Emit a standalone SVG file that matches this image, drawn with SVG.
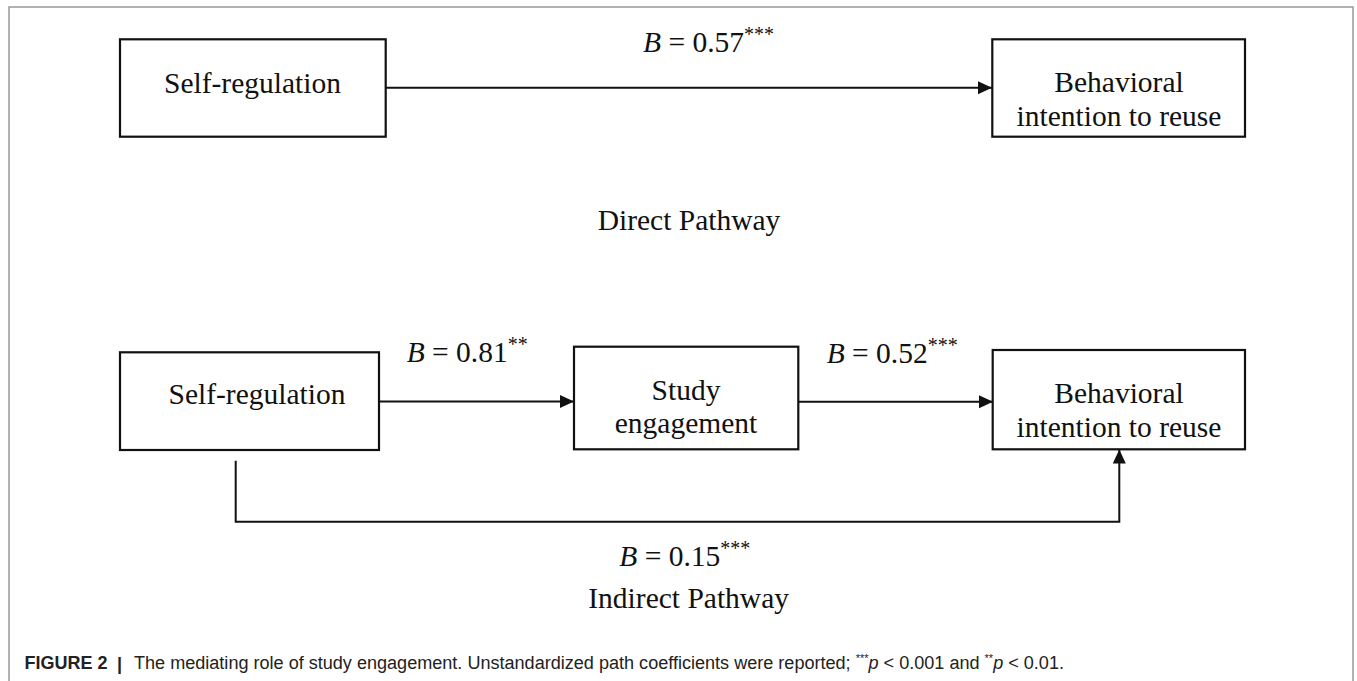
<svg xmlns="http://www.w3.org/2000/svg" width="1357" height="681" viewBox="0 0 1357 681">
<style>
.box{fill:#fff;stroke:#111;stroke-width:2.2}
.t{font-family:"Liberation Serif","Times New Roman",serif;font-size:29.5px;fill:#111}
.it{font-style:italic}
.sup{font-size:20px}
.edge{fill:none;stroke:#111;stroke-width:2}
.frame{fill:none;stroke:#999;stroke-width:1.5}
.cap{font-family:"Liberation Sans",Arial,sans-serif;font-size:18px;fill:#222}
</style>
<defs>
<marker id="ah" markerUnits="userSpaceOnUse" markerWidth="15" markerHeight="14" refX="14" refY="6.5" orient="auto">
<path d="M0,0 L14,6.5 L0,13 Z" fill="#111"/>
</marker>
</defs>
<rect width="1357" height="681" fill="#fff"/>
<path class="frame" d="M9,681 V7 H1353 V681"/>

<g id="connectors">
<line class="edge" x1="386" y1="87.7" x2="992" y2="87.7" marker-end="url(#ah)"/>
<line class="edge" x1="380" y1="401.5" x2="574" y2="401.5" marker-end="url(#ah)"/>
<line class="edge" x1="799" y1="401.7" x2="993" y2="401.7" marker-end="url(#ah)"/>
<path class="edge" d="M235.7,460.7 V521.7 H1119.3 V449.5" marker-end="url(#ah)"/>
</g>

<g id="label-top">
<text class="t" x="643" y="52"><tspan class="it">B</tspan> = 0.57<tspan class="sup" dy="-11">***</tspan></text>
</g>
<g id="label-a">
<text class="t" x="406.7" y="362"><tspan class="it">B</tspan> = 0.81<tspan class="sup" dy="-11">**</tspan></text>
</g>
<g id="label-b">
<text class="t" x="826.7" y="362.7"><tspan class="it">B</tspan> = 0.52<tspan class="sup" dy="-11">***</tspan></text>
</g>
<g id="label-c">
<text class="t" x="619.3" y="566"><tspan class="it">B</tspan> = 0.15<tspan class="sup" dy="-11">***</tspan></text>
</g>

<g id="node-selfreg-top">
<rect class="box" x="120" y="39.3" width="265.7" height="97.4"/>
<text class="t" x="252.5" y="92.7" text-anchor="middle">Self-regulation</text>
</g>
<g id="node-bir-top">
<rect class="box" x="992.3" y="39.3" width="252.7" height="97.4"/>
<text class="t" x="1119" y="92.3" text-anchor="middle">Behavioral</text>
<text class="t" x="1119" y="126" text-anchor="middle">intention to reuse</text>
</g>
<g id="title-direct">
<text class="t" x="689" y="230" text-anchor="middle">Direct Pathway</text>
</g>

<g id="node-selfreg-bottom">
<rect class="box" x="120" y="352.3" width="259" height="97.7"/>
<text class="t" x="257" y="404.3" text-anchor="middle">Self-regulation</text>
</g>
<g id="node-study">
<rect class="box" x="574" y="346.7" width="224.3" height="102.6"/>
<text class="t" x="686" y="400" text-anchor="middle">Study</text>
<text class="t" x="686" y="432.7" text-anchor="middle">engagement</text>
</g>
<g id="node-bir-bottom">
<rect class="box" x="992.7" y="350" width="252.3" height="99.3"/>
<text class="t" x="1119" y="402.7" text-anchor="middle">Behavioral</text>
<text class="t" x="1119" y="436.7" text-anchor="middle">intention to reuse</text>
</g>
<g id="title-indirect">
<text class="t" x="588.3" y="607.7">Indirect Pathway</text>
</g>

<g id="caption">
<text class="cap" x="24.5" y="669" font-weight="bold" fill="#111">FIGURE 2</text>
<text class="cap" x="117" y="670" font-weight="bold" font-size="21" fill="#111">|</text>
<text class="cap" x="134" y="669" textLength="930" lengthAdjust="spacingAndGlyphs">The mediating role of study engagement. Unstandardized path coefficients were reported; <tspan font-size="11" dy="-7">***</tspan><tspan font-style="italic" dy="7">p</tspan> &lt; 0.001 and <tspan font-size="11" dy="-7">**</tspan><tspan font-style="italic" dy="7">p</tspan> &lt; 0.01.</text>
</g>
</svg>
